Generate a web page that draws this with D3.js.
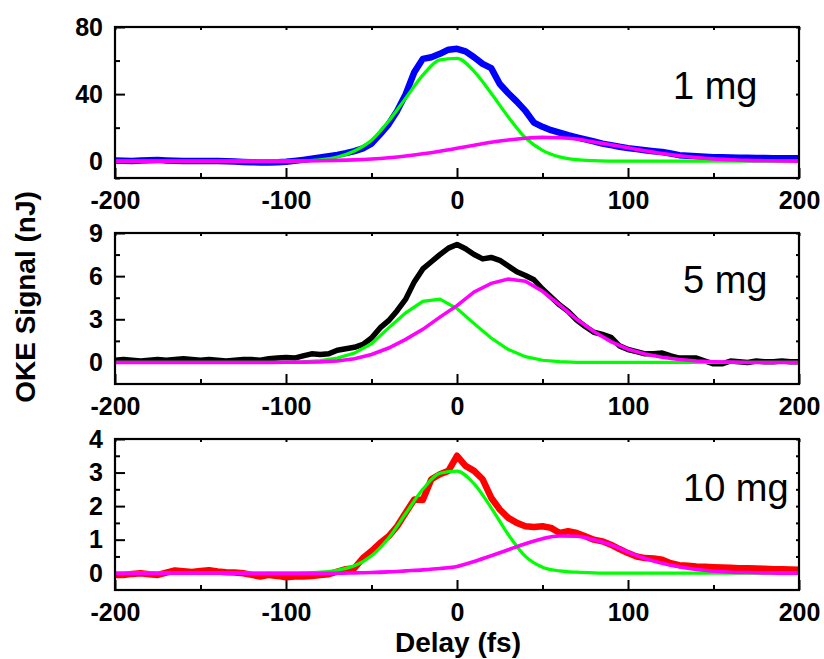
<!DOCTYPE html>
<html>
<head>
<meta charset="utf-8">
<script src="https://cdn.jsdelivr.net/npm/d3@7"></script>
<style>
  body { margin: 0; background: #fff; }
  svg { display: block; font-family: "Liberation Sans", Arial, sans-serif; }
</style>
</head>
<body>
<script>
// delay grids (fs)
var delayData = d3.range(-200, 201, 5);
var delayFit = d3.range(-200, 201, 10);

var xTicks = [-200, -100, 0, 100, 200];
var xMinor = [-150, -50, 50, 150];

// 1 mg
var signal1 = [0.5, 0.3, 0.2, 0.4, 0.6, 0.8, 0.5, 0.3, 0.2, 0.1, 0.1, 0.2, 0.1, 0.0, -0.2, -0.4, -0.6, -0.7, -0.7, -0.6,
  -0.3, 0.2, 0.8, 1.5, 2.2, 3.0, 3.8, 4.8, 6.0, 7.7, 10.5, 16, 22, 30, 40, 53, 61, 62, 64, 66.5,
  67, 65.5, 62, 58, 55.5, 46, 40.5, 35.5, 30, 23, 20.5, 18.5, 17, 15.5, 14.2, 13, 11.8, 10.5, 9.6, 8.6,
  7.8, 7.2, 6.6, 6.0, 5.5, 4.6, 3.6, 3.2, 2.9, 2.6, 2.4, 2.3, 2.2, 2.1, 2.0, 1.9, 1.9, 1.8, 1.8, 1.7, 1.7];
var fastFit1 = [0, 0, 0, 0, 0, 0, 0, 0, 0, 0, 0.07, 0.26, 0.87, 2.5, 6.1, 12.5, 23.8, 37.6, 51.3, 60.4,
  61.3, 53.6, 40.5, 26.4, 14, 6.5, 2.6, 0.9, 0.3, 0.09, 0.02, 0, 0, 0, 0, 0, 0, 0, 0, 0, 0];
var slowFit1 = [0, 0, 0, 0, 0, 0, 0, 0.01, 0.02, 0.05, 0.08, 0.15, 0.28, 0.49, 0.83, 1.35, 2.09, 3.1, 4.4, 5.95,
  7.7, 9.5, 11.3, 12.7, 13.7, 14.2, 14.0, 13.2, 11.5, 9.8, 8.0, 6.2, 4.6, 3.3, 2.2, 1.4, 0.9, 0.5, 0.3, 0.15, 0.08];

// 5 mg
var signal5 = [0.15, 0.2, 0.15, 0.1, 0.15, 0.2, 0.15, 0.2, 0.25, 0.2, 0.15, 0.2, 0.15, 0.1, 0.15, 0.2, 0.2, 0.15, 0.25, 0.3,
  0.35, 0.3, 0.45, 0.6, 0.55, 0.6, 0.85, 0.95, 1.05, 1.25, 1.7, 2.4, 2.9, 3.6, 4.4, 5.6, 6.5, 7.0, 7.5, 7.95,
  8.2, 7.9, 7.5, 7.2, 7.3, 7.1, 6.7, 6.3, 6.05, 5.75, 5.1, 4.55, 4.0, 3.55, 2.95, 2.5, 2.1, 1.95, 1.75, 1.15,
  0.9, 0.75, 0.6, 0.6, 0.65, 0.45, 0.3, 0.3, 0.3, 0.1, -0.1, -0.1, 0.1, 0.05, 0.0, 0.1, 0.05, 0.05, 0.1, 0.05, 0.05];
var fastFit5 = [0, 0, 0, 0, 0, 0, 0, 0, 0, 0, 0.01, 0.04, 0.12, 0.3, 0.65, 1.3, 2.4, 3.45, 4.25, 4.4,
  3.75, 2.7, 1.7, 0.9, 0.4, 0.15, 0.05, 0.01, 0, 0, 0, 0, 0, 0, 0, 0, 0, 0, 0, 0, 0];
var slowFit5 = [0, 0, 0, 0, 0, 0, 0, 0, 0, 0, 0.01, 0.02, 0.04, 0.1, 0.25, 0.55, 1.0, 1.6, 2.3, 3.15,
  3.95, 4.9, 5.5, 5.8, 5.65, 4.95, 4.0, 3.0, 2.15, 1.45, 0.92, 0.58, 0.36, 0.2, 0.1, 0.05, 0.02, 0, 0, 0, 0];

// 10 mg
var signal10 = [-0.05, -0.05, -0.02, 0.0, -0.03, -0.05, 0.02, 0.08, 0.06, 0.04, 0.07, 0.09, 0.05, 0.03, 0.02, 0.0, -0.05, -0.1, -0.05, -0.08,
  -0.12, -0.1, -0.1, -0.08, -0.05, -0.03, 0.05, 0.12, 0.15, 0.45, 0.66, 0.9, 1.1, 1.4, 1.8, 2.2, 2.18, 2.8, 2.95, 3.05,
  3.5, 3.2, 3.05, 2.8, 2.25, 1.9, 1.65, 1.5, 1.4, 1.38, 1.4, 1.35, 1.2, 1.25, 1.2, 1.1, 1.0, 0.95, 0.85, 0.72,
  0.6, 0.5, 0.45, 0.44, 0.4, 0.3, 0.24, 0.22, 0.2, 0.19, 0.18, 0.17, 0.16, 0.15, 0.15, 0.14, 0.13, 0.12, 0.12, 0.11, 0.1];
var fastFit10 = [0, 0, 0, 0, 0, 0, 0, 0, 0, 0, 0, 0.01, 0.03, 0.09, 0.22, 0.52, 1.05, 1.78, 2.5, 2.98,
  3.04, 2.66, 1.95, 1.15, 0.5, 0.18, 0.07, 0.03, 0.01, 0, 0, 0, 0, 0, 0, 0, 0, 0, 0, 0, 0];
var slowFit10 = [0, 0, 0, 0, 0, 0, 0, 0, 0, 0, 0, 0, 0, 0, 0.01, 0.02, 0.04, 0.07, 0.1, 0.14,
  0.2, 0.35, 0.52, 0.7, 0.88, 1.03, 1.11, 1.1, 1.0, 0.85, 0.63, 0.44, 0.3, 0.19, 0.11, 0.06, 0.03, 0.02, 0.01, 0, 0];

var panelLabels = ["1 mg", "5 mg", "10 mg"];
var yDomains = [[-10, 80], [-1.5, 9], [-0.5, 4]];
var yTicks = [[0, 40, 80], [0, 3, 6, 9], [0, 1, 2, 3, 4]];
var yMinor = [[-10, 20, 60], [1.5, 4.5, 7.5], [0.5, 1.5, 2.5, 3.5]];
var dataColors = ["#0000ff", "#000000", "#ff0000"];

var panels = [
  {signal: signal1, fast: fastFit1, slow: slowFit1, top: 27, width: 6.5, labelX: 673, labelY: 99, smooth: true},
  {signal: signal5, fast: fastFit5, slow: slowFit5, top: 233, width: 5.5, labelX: 683, labelY: 293, smooth: false},
  {signal: signal10, fast: fastFit10, slow: slowFit10, top: 439, width: 6.5, labelX: 683, labelY: 501, smooth: true}
];

var width = 824, height = 659;
var left = 115, right = 799, panelH = 151;

// plain hyphen minus like the original
function plain(d) { return String(d); }

var svg = d3.select("body").append("svg")
    .attr("width", width)
    .attr("height", height);

var x = d3.scaleLinear().domain([-200, 200]).range([left, right]);

panels.forEach(function (p, i) {
    var bottom = p.top + panelH;
    var y = d3.scaleLinear().domain(yDomains[i]).range([bottom, p.top]);
    var g = svg.append("g");

    // minor ticks first
    g.append("g").attr("transform", "translate(0," + bottom + ")")
        .call(d3.axisBottom(x).tickValues(xMinor).tickSize(-5).tickSizeOuter(0).tickFormat(""));
    g.append("g").attr("transform", "translate(" + left + ",0)")
        .call(d3.axisLeft(y).tickValues(yMinor[i]).tickSize(-5).tickSizeOuter(0).tickFormat(""));
    g.append("g").attr("transform", "translate(0," + p.top + ")")
        .call(d3.axisTop(x).tickValues(xTicks.concat(xMinor)).tickSize(-3).tickSizeOuter(0).tickFormat(""));
    g.append("g").attr("transform", "translate(" + right + ",0)")
        .call(d3.axisRight(y).tickValues(yTicks[i].concat(yMinor[i])).tickSize(-3).tickSizeOuter(0).tickFormat(""));

    // major ticks with labels
    g.append("g").attr("class", "xaxis").attr("transform", "translate(0," + bottom + ")")
        .call(d3.axisBottom(x).tickValues(xTicks).tickSize(-10).tickSizeOuter(0).tickPadding(13).tickFormat(plain));
    g.append("g").attr("class", "yaxis").attr("transform", "translate(" + left + ",0)")
        .call(d3.axisLeft(y).tickValues(yTicks[i]).tickSize(-10).tickSizeOuter(0).tickPadding(12).tickFormat(plain));

    g.selectAll(".tick line").attr("stroke", "#000").attr("stroke-width", 2);
    g.selectAll(".domain").remove();
    g.selectAll(".tick text")
        .attr("fill", "#000")
        .style("font-size", "25px")
        .style("font-weight", "bold")
        .style("font-family", "'Liberation Sans', Arial, sans-serif");

    // lines
    var curve = p.smooth ? d3.curveMonotoneX : d3.curveLinear;
    var dataLine = d3.line()
        .x(function (d, k) { return x(delayData[k]); })
        .y(function (d) { return y(d); });
    var fitLine = d3.line()
        .x(function (d, k) { return x(delayFit[k]); })
        .y(function (d) { return y(d); })
        .curve(curve);

    g.append("path").datum(p.signal)
        .attr("d", dataLine)
        .attr("fill", "none")
        .attr("stroke", dataColors[i])
        .attr("stroke-width", p.width)
        .attr("stroke-linejoin", "round");
    g.append("path").datum(p.fast)
        .attr("d", fitLine)
        .attr("fill", "none")
        .attr("stroke", "#00ff00")
        .attr("stroke-width", 3.2);
    g.append("path").datum(p.slow)
        .attr("d", fitLine)
        .attr("fill", "none")
        .attr("stroke", "#ff00ff")
        .attr("stroke-width", 3.6);

    // frame
    g.append("rect")
        .attr("x", left).attr("y", p.top)
        .attr("width", right - left).attr("height", panelH)
        .attr("fill", "none")
        .attr("stroke", "#000")
        .attr("stroke-width", 2.2);

    g.append("text")
        .attr("x", p.labelX).attr("y", p.labelY)
        .style("font-size", "38px")
        .text(panelLabels[i]);
});

// axis titles
svg.append("text")
    .attr("x", 458).attr("y", 652)
    .attr("text-anchor", "middle")
    .style("font-size", "28px")
    .style("font-weight", "bold")
    .text("Delay (fs)");

svg.append("text")
    .attr("transform", "translate(35,297) rotate(-90)")
    .attr("text-anchor", "middle")
    .style("font-size", "28px")
    .style("font-weight", "bold")
    .text("OKE Signal (nJ)");
</script>
</body>
</html>
